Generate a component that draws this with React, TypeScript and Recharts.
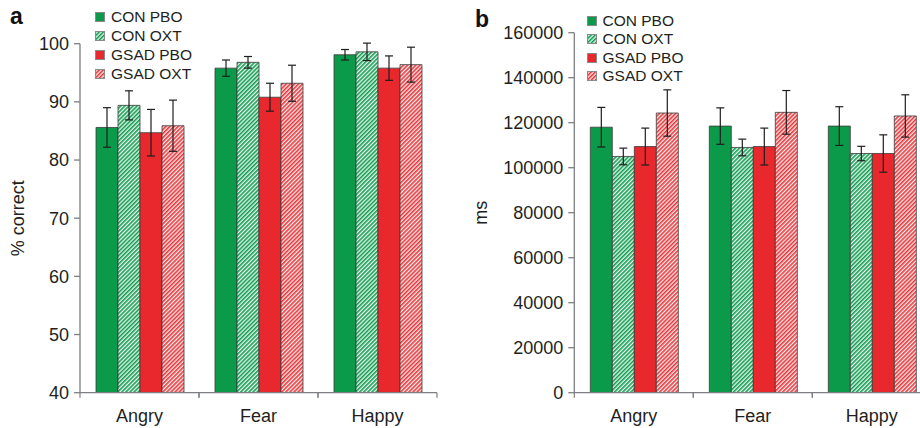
import { Bar, BarChart, ErrorBar, Legend, XAxis, YAxis } from 'recharts';

const FONT = '"Liberation Sans", Arial, sans-serif';
const TEXT_COLOR = '#231f20';
const AXIS_COLOR = '#7d7f82';

const categories = ['Angry', 'Fear', 'Happy'];
const seriesNames = ['CON PBO', 'CON OXT', 'GSAD PBO', 'GSAD OXT'];

// panel a: % correct
const accConPbo = [85.6, 95.8, 98.1];
const accConPboErr = [3.4, 1.4, 0.9];
const accConOxt = [89.4, 96.8, 98.6];
const accConOxtErr = [2.5, 1.0, 1.5];
const accGsadPbo = [84.7, 90.8, 95.8];
const accGsadPboErr = [4.0, 2.4, 2.1];
const accGsadOxt = [85.9, 93.2, 96.4];
const accGsadOxtErr = [4.4, 3.1, 3.0];
const accTicks = [40, 50, 60, 70, 80, 90, 100];

// panel b: reaction time (ms)
const rtConPbo = [118000, 118500, 118500];
const rtConPboErr = [8800, 8100, 8600];
const rtConOxt = [105000, 109000, 106300];
const rtConOxtErr = [3700, 3700, 3200];
const rtGsadPbo = [109400, 109400, 106300];
const rtGsadPboErr = [8200, 8200, 8300];
const rtGsadOxt = [124300, 124600, 123000];
const rtGsadOxtErr = [10300, 9700, 9400];
const rtTicks = [0, 20000, 40000, 60000, 80000, 100000, 120000, 140000, 160000];

const fills = ['#0b9a4a', 'url(#hatchGreen)', '#e8282c', 'url(#hatchRed)'];
const keys = ['conPbo', 'conOxt', 'gsadPbo', 'gsadOxt'];

function buildRows(vals: number[][], errs: number[][]) {
  return categories.map((name, i) => {
    const row: Record<string, string | number> = { name };
    keys.forEach((k, s) => {
      row[k] = vals[s][i];
      row[k + 'Err'] = errs[s][i];
    });
    return row;
  });
}

const accRows = buildRows(
  [accConPbo, accConOxt, accGsadPbo, accGsadOxt],
  [accConPboErr, accConOxtErr, accGsadPboErr, accGsadOxtErr]
);
const rtRows = buildRows(
  [rtConPbo, rtConOxt, rtGsadPbo, rtGsadOxt],
  [rtConPboErr, rtConOxtErr, rtGsadPboErr, rtGsadOxtErr]
);

function Hatches() {
  return (
    <defs>
      <pattern id="hatchGreen" patternUnits="userSpaceOnUse" width="2.9" height="2.9" patternTransform="rotate(45)">
        <rect width="2.9" height="2.9" fill="#eef9f1" />
        <rect width="1.6" height="2.9" fill="#139d52" />
      </pattern>
      <pattern id="hatchRed" patternUnits="userSpaceOnUse" width="2.9" height="2.9" patternTransform="rotate(45)">
        <rect width="2.9" height="2.9" fill="#fdeeee" />
        <rect width="1.6" height="2.9" fill="#e6383c" />
      </pattern>
    </defs>
  );
}

function CategoryTick(props: any) {
  const { x, y, payload, width } = props;
  const half = payload.offset || width / (2 * categories.length);
  return (
    <g>
      <line x1={x - half} y1={y} x2={x - half} y2={y + 5} stroke={AXIS_COLOR} strokeWidth={1.2} />
      <line x1={x + half} y1={y} x2={x + half} y2={y + 5} stroke={AXIS_COLOR} strokeWidth={1.2} />
      <text x={x} y={y + 29} textAnchor="middle" fill={TEXT_COLOR} fontSize={18} fontFamily={FONT}>
        {payload.value}
      </text>
    </g>
  );
}

function makeLegend(rowHeight: number) {
  return function LegendContent(props: any) {
    const payload = [...(props.payload || [])].sort(
      (m: any, n: any) => seriesNames.indexOf(m.value) - seriesNames.indexOf(n.value)
    );
    return (
      <div style={{ fontFamily: FONT, fontSize: 15.5, color: TEXT_COLOR }}>
        {payload.map((entry: any) => (
          <div key={entry.value} style={{ height: rowHeight, display: 'flex', alignItems: 'center' }}>
            <svg width={10} height={10} style={{ marginRight: 6 }}>
              <rect x={0.5} y={0.5} width={9} height={9} fill={entry.color} stroke="#8a8a8a" strokeWidth={1} />
            </svg>
            <span>{entry.value}</span>
          </div>
        ))}
      </div>
    );
  };
}

type PanelProps = {
  letter: string;
  letterX: number;
  letterY: number;
  rows: Record<string, string | number>[];
  domain: [number, number];
  ticks: number[];
  yLabel: string;
  yAxisWidth: number;
  labelOffset: number;
  top: number;
  right: number;
  width: number;
  legendLeft: number;
  legendTop: number;
  legendRow: number;
};

function Panel(p: PanelProps) {
  return (
    <BarChart
      width={p.width}
      height={428}
      data={p.rows}
      margin={{ top: p.top, right: p.right, bottom: 0, left: 0 }}
      barCategoryGap={16}
      barGap={0}
      style={{ fontFamily: FONT }}
    >
      <Hatches />
      <text x={p.letterX} y={p.letterY} fontSize={23} fontWeight="bold" fill="#111" fontFamily={FONT}>
        {p.letter}
      </text>
      <XAxis
        dataKey="name"
        height={35.3}
        stroke={AXIS_COLOR}
        strokeWidth={1.3}
        tickLine={false}
        tickSize={0}
        tickMargin={0}
        tick={<CategoryTick />}
        interval={0}
      />
      <YAxis
        width={p.yAxisWidth}
        domain={p.domain}
        ticks={p.ticks}
        allowDataOverflow
        interval={0}
        stroke={AXIS_COLOR}
        strokeWidth={1.3}
        tickSize={6}
        tickMargin={5}
        tick={{ fill: TEXT_COLOR, fontSize: 18, fontFamily: FONT }}
        label={{
          value: p.yLabel,
          angle: -90,
          position: 'insideLeft',
          offset: p.labelOffset,
          style: { textAnchor: 'middle', fill: TEXT_COLOR, fontSize: 18, fontFamily: FONT },
        }}
      />
      <Legend
        layout="vertical"
        align="center"
        verticalAlign="middle"
        wrapperStyle={{ left: p.legendLeft, top: p.legendTop, width: 'auto', height: 'auto' }}
        content={makeLegend(p.legendRow)}
      />
      {keys.map((k, s) => (
        <Bar
          key={k}
          dataKey={k}
          name={seriesNames[s]}
          fill={fills[s]}
          stroke="#3b3b3b"
          strokeWidth={0.8}
          isAnimationActive={false}
        >
          <ErrorBar dataKey={k + 'Err'} width={4} stroke="#1e1e1e" strokeWidth={1.2} />
        </Bar>
      ))}
    </BarChart>
  );
}

export default function App() {
  return (
    <div style={{ position: 'absolute', left: 0, top: 0, width: 920, height: 428, overflow: 'hidden', background: '#fff' }}>
      <div style={{ position: 'absolute', left: 0, top: 0 }}>
        <Panel
          letter="a"
          letterX={10}
          letterY={24}
          rows={accRows}
          domain={[40, 100]}
          ticks={accTicks}
          yLabel="% correct"
          yAxisWidth={80}
          labelOffset={18}
          top={43.7}
          right={23}
          width={460}
          legendLeft={95}
          legendTop={7.8}
          legendRow={19}
        />
      </div>
      <div style={{ position: 'absolute', left: 460, top: 0 }}>
        <Panel
          letter="b"
          letterX={15}
          letterY={27}
          rows={rtRows}
          domain={[0, 160000]}
          ticks={rtTicks}
          yLabel="ms"
          yAxisWidth={114.3}
          labelOffset={21}
          top={32.7}
          right={8.7}
          width={480}
          legendLeft={126.5}
          legendTop={11.5}
          legendRow={18.5}
        />
      </div>
    </div>
  );
}
